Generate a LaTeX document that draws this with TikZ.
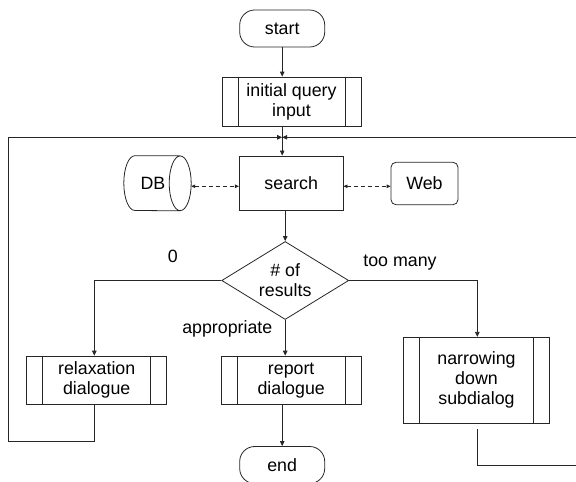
\documentclass[tikz,border=0pt]{standalone}
\usepackage{fontspec}
\setmainfont{Liberation Sans}
\usetikzlibrary{arrows.meta,shapes.geometric}
\begin{document}
\begin{tikzpicture}[x=1pt,y=-1pt,
  every node/.style={font=\fontsize{17.8}{20}\selectfont, inner sep=0pt, align=center},
  line/.style={draw=black!85, line width=0.8pt},
  flow/.style={line, -{Triangle[length=5pt,width=4.5pt]}},
  link/.style={line, dash pattern=on 4pt off 3pt,
    {Triangle[length=4pt,width=3.5pt]}-{Triangle[length=4pt,width=3.5pt]}},
  terminal/.style={line, rectangle, rounded corners=15pt,
    minimum width=85pt, minimum height=37pt},
  proc/.style={line, rectangle},
  subproc/.style={line, rectangle,
    append after command={
      \pgfextra{\draw[line]
        ([xshift=16.5pt]\tikzlastnode.north west) -- ([xshift=16.5pt]\tikzlastnode.south west)
        ([xshift=-16.5pt]\tikzlastnode.north east) -- ([xshift=-16.5pt]\tikzlastnode.south east);}}},
  % horizontal drum: rounded left end, full ellipse on the right
  store/.style={rectangle, minimum width=67pt, minimum height=54.7pt,
    append after command={
      \pgfextra{\draw[line]
        ([xshift=11pt]\tikzlastnode.north west)
          arc[start angle=90, end angle=270, x radius=11pt, y radius=27.35pt]
          -- ([xshift=-11pt]\tikzlastnode.south east)
        ([xshift=11pt]\tikzlastnode.north west) -- ([xshift=-11pt]\tikzlastnode.north east)
        ([xshift=-11pt]\tikzlastnode.east) ellipse[x radius=11pt, y radius=27.35pt];}}},
  decision/.style={line, diamond, aspect=1.63,
    minimum width=127pt, minimum height=78pt},
  lbl/.style={anchor=base}
]
\useasboundingbox (0,0) rectangle (576,482);
\clip (0,0) rectangle (576,482);

% main column
\node[terminal] (start) at (282.2,28.5) {start};
\node[subproc, minimum width=139pt, minimum height=49pt] (init) at (291.5,101.5) {initial query\\input};
\node[proc, minimum width=103.7pt, minimum height=54.7pt] (search) at (291.2,183.3) {search};
\node[store] (db) at (157.5,183.3) {DB\hspace*{9pt}};
\node[line, rectangle, rounded corners=5pt, minimum width=67pt, minimum height=42.4pt] (web) at (424.5,183.5) {Web};
\node[decision] (dec) at (285.2,280.5) {\# of\\results};

% branches
\node[subproc, minimum width=140pt, minimum height=48.3pt] (relax) at (96.7,380.2) {relaxation\\dialogue};
\node[subproc, minimum width=139.7pt, minimum height=48.3pt] (report) at (291.2,380.2) {report\\dialogue};
\node[subproc, minimum width=146.4pt, minimum height=86pt] (narrow) at (476.5,380.3) {narrowing\\down\\subdialog};
\node[terminal] (end) at (282.2,465) {end};

% branch labels
\node[lbl] (lzero) at (172.7,262.3) {0};
\node[lbl] (lmany) at (400,266.3) {too many};
\node[lbl, anchor=base east] (lok) at (272.5,333) {appropriate};

% loop corners and merge point
\coordinate (merge) at (282.2,137.3);
\coordinate (lcorner) at (8.3,441);
\coordinate (rcorner) at (600,465.7);

% connectors
\draw[flow] (start) -- (start.south |- init.north);
\draw[flow] (start.south |- init.south) -- (start.south |- search.north);
\draw[link] ([yshift=-3pt]db.east) -- ([yshift=-3pt]search.west);
\draw[link] ([yshift=-3pt]search.east) -- ([yshift=-3pt]search.east -| web.west);
\draw[flow] (dec.north |- search.south) -- (dec.north);
\draw[flow] (dec.west) -| ([xshift=-2.4pt]relax.north);
\draw[flow] (dec.east) -| ([xshift=0.8pt]narrow.north);
\draw[flow] (dec.south) -- (dec.south |- report.north);
\draw[flow] (end.north |- report.south) -- (end.north);

% feedback loops
\draw[flow] ([xshift=-2.4pt]relax.south) |- (lcorner) |- (merge);
\draw[flow] ([xshift=0.8pt,yshift=-5.4pt]narrow.south) |- (rcorner) |- (merge);
\end{tikzpicture}
\end{document}
